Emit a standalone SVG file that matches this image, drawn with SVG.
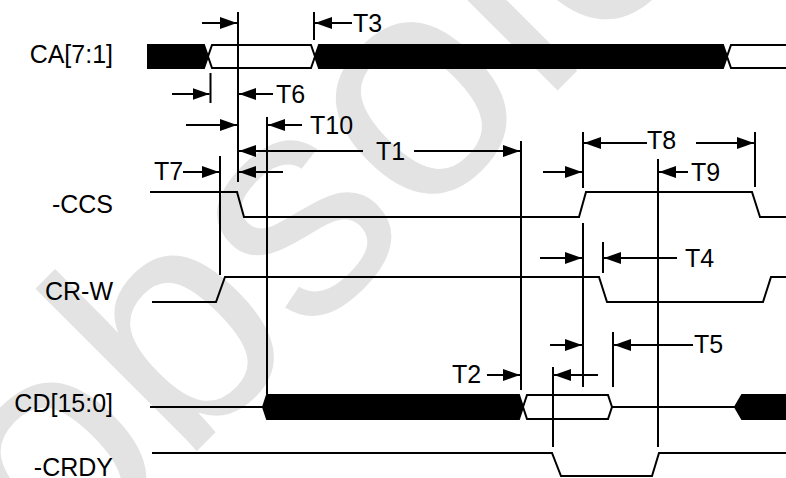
<svg xmlns="http://www.w3.org/2000/svg" width="786" height="478" viewBox="0 0 786 478">
<defs>
<style>
.wm{font-family:"Liberation Sans",Arial,sans-serif;font-size:316px;fill:#e3e3e3}
.lbl{font-family:"Liberation Sans",Arial,sans-serif;font-size:25px;fill:#000}
.sig{fill:none;stroke:#000;stroke-width:2;stroke-linejoin:miter}
.blk{fill:#000;stroke:#000;stroke-width:2;stroke-linejoin:miter}
.wht{fill:#fff;stroke:#000;stroke-width:2;stroke-linejoin:miter}
.vl{stroke:#000;stroke-width:2}
.ar{stroke:#000;stroke-width:2;marker-end:url(#ah)}
.ln{stroke:#000;stroke-width:2}
</style>
<marker id="ah" markerUnits="userSpaceOnUse" markerWidth="17" markerHeight="12" refX="17" refY="6" orient="auto">
<path d="M0,0 L17,6 L0,12 Z" fill="#000"/>
</marker>
</defs>
<rect width="786" height="478" fill="#fff"/>
<text class="wm" x="58" y="590" transform="rotate(-45 58 590)">obsolete</text>

<g id="sig-ca">
<text class="lbl" x="113" y="63" text-anchor="end">CA[7:1]</text>
<polygon class="blk" points="148,45 204,45 208,56.5 204,68 148,68"/>
<polygon class="wht" points="212,45 311,45 315,56.5 311,68 212,68 208,56.5"/>
<polygon class="blk" points="319,45 723,45 727,56.5 723,68 319,68 315,56.5"/>
<polygon class="wht" points="731,45 790,45 790,68 731,68 727,56.5"/>
</g>
<g id="sig-ccs">
<text class="lbl" x="113" y="213" text-anchor="end">-CCS</text>
<polyline class="sig" points="150,192 237,192 244,217 579,217 586,192 752,192 760,217 790,217"/>
</g>
<g id="sig-crw">
<text class="lbl" x="113" y="300" text-anchor="end">CR-W</text>
<polyline class="sig" points="152,302 216,302 225,277 599,277 607,302 763,302 771,277 790,277"/>
</g>
<g id="sig-cd">
<text class="lbl" x="113" y="412" text-anchor="end">CD[15:0]</text>
<line class="ln" x1="150" y1="407" x2="263" y2="407"/>
<polygon class="blk" points="263,407 267,395 519,395 523,407 519,419 267,419"/>
<polygon class="wht" points="523,407 527,395 608,395 612,407 608,419 527,419"/>
<line class="ln" x1="612" y1="407" x2="735" y2="407"/>
<polygon class="blk" points="735,407 742,395 790,395 790,419 742,419"/>
</g>
<g id="sig-crdy">
<text class="lbl" x="113" y="476" text-anchor="end">-CRDY</text>
<polyline class="sig" points="152,453 552,453 561,476 652,476 659,453 790,453"/>
</g>

<g id="connectors">
<line class="vl" x1="238" y1="12" x2="238" y2="182"/>
<line class="vl" x1="210.5" y1="73" x2="210.5" y2="103"/>
<line class="vl" x1="314" y1="12" x2="314" y2="40"/>
<line class="vl" x1="220" y1="156" x2="220" y2="275"/>
<line class="vl" x1="267" y1="117" x2="267" y2="394"/>
<line class="vl" x1="521" y1="141" x2="521" y2="390"/>
<line class="vl" x1="583" y1="132" x2="583" y2="188"/>
<line class="vl" x1="583" y1="223" x2="583" y2="387"/>
<line class="vl" x1="755" y1="132" x2="755" y2="187"/>
<line class="vl" x1="658" y1="159" x2="658" y2="447"/>
<line class="vl" x1="603" y1="242" x2="603" y2="273"/>
<line class="vl" x1="613" y1="332" x2="613" y2="387"/>
<line class="vl" x1="553" y1="367" x2="553" y2="447"/>

<line class="ar" x1="202" y1="23" x2="237" y2="23"/>
<line class="ar" x1="352" y1="23" x2="315" y2="23"/>
<line class="ar" x1="172" y1="94" x2="209.5" y2="94"/>
<line class="ar" x1="273" y1="94" x2="239" y2="94"/>
<line class="ar" x1="186" y1="125" x2="237" y2="125"/>
<line class="ar" x1="302" y1="125" x2="268" y2="125"/>
<line class="ar" x1="363" y1="151" x2="239" y2="151"/>
<line class="ar" x1="414" y1="151" x2="520" y2="151"/>
<line class="ar" x1="183" y1="172" x2="219" y2="172"/>
<line class="ar" x1="283" y1="172" x2="239" y2="172"/>
<line class="ar" x1="543" y1="172" x2="582" y2="172"/>
<line class="ar" x1="647" y1="143" x2="584" y2="143"/>
<line class="ar" x1="696" y1="143" x2="754" y2="143"/>
<line class="ar" x1="688" y1="172" x2="659" y2="172"/>
<line class="ar" x1="540" y1="258" x2="582" y2="258"/>
<line class="ar" x1="677" y1="258" x2="604" y2="258"/>
<line class="ar" x1="550" y1="345" x2="582" y2="345"/>
<line class="ar" x1="693" y1="345" x2="614" y2="345"/>
<line class="ar" x1="487" y1="375" x2="520" y2="375"/>
<line class="ar" x1="598" y1="375" x2="554" y2="375"/>

<text class="lbl" x="353" y="32">T3</text>
<text class="lbl" x="276" y="103">T6</text>
<text class="lbl" x="310" y="134">T10</text>
<text class="lbl" x="376" y="160">T1</text>
<text class="lbl" x="154" y="180">T7</text>
<text class="lbl" x="647" y="149">T8</text>
<text class="lbl" x="691" y="181">T9</text>
<text class="lbl" x="685" y="267">T4</text>
<text class="lbl" x="694" y="353">T5</text>
<text class="lbl" x="452" y="383">T2</text>
</g>
</svg>
